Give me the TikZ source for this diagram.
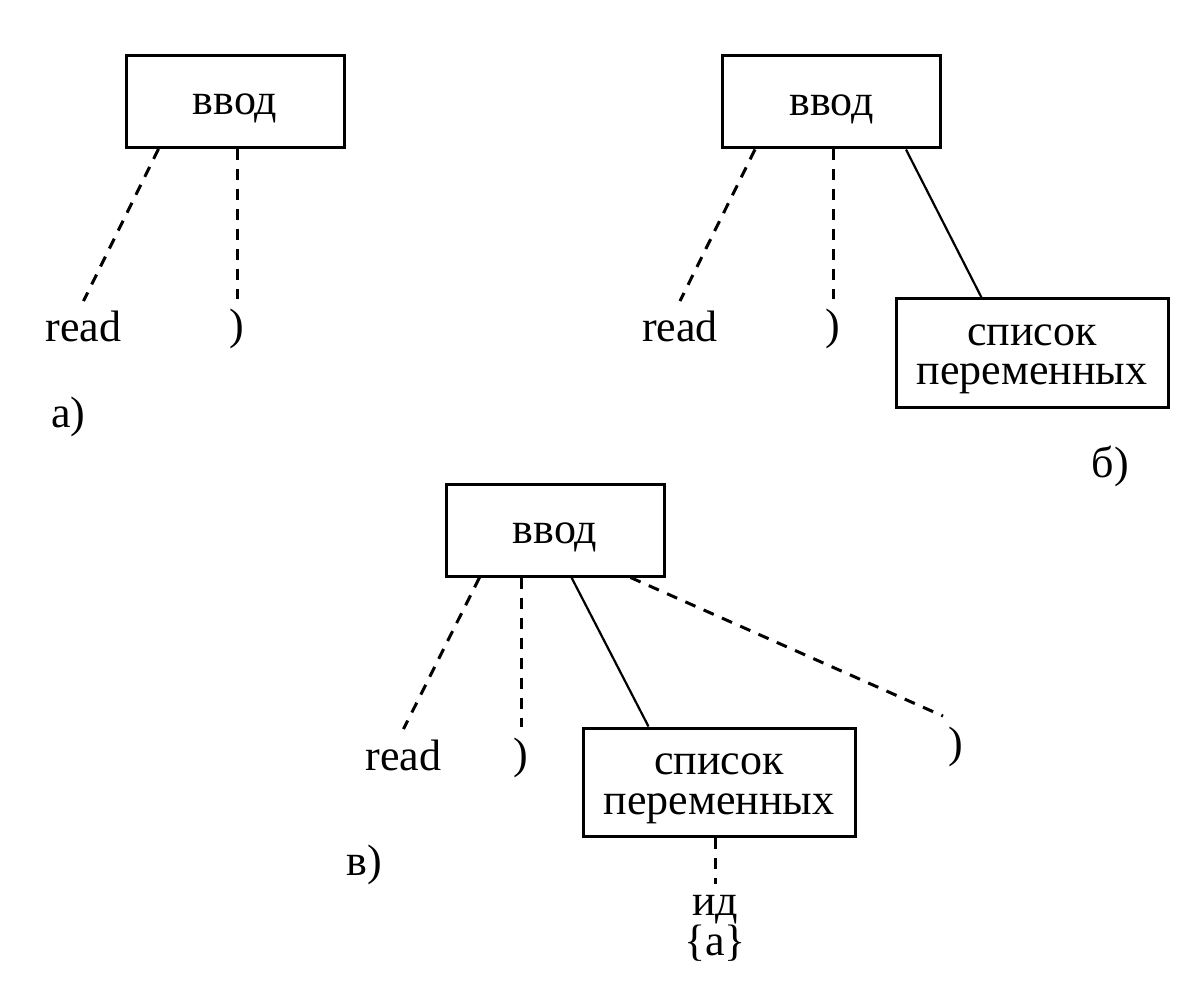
\documentclass[tikz,border=0pt]{standalone}
\usepackage{fontspec}
\setmainfont{Liberation Serif}
\begin{document}
\begin{tikzpicture}[x=0.5pt, y=-0.5pt, font=\fontsize{22}{20}\selectfont,
	box/.style={draw, line width=1.5pt, inner sep=0pt, minimum width=109pt, minimum height=46pt, text height=20pt, text depth=6.5pt},
	listbox/.style={draw, line width=1.5pt, inner sep=0pt, minimum width=136pt, minimum height=54pt, align=center, text height=36pt, text depth=4pt},
	leaf/.style={inner sep=5pt, anchor=base},
	tree/.style={line width=1.1pt},
	dtree/.style={line width=1.5pt, dash pattern=on 5.5pt off 4.5pt}]
	
	\useasboundingbox (0, 0) rectangle (1200, 1000);
	
	% а)
	\node[box] (vvodA) at (235, 101.5) {ввод};
	\node[leaf] (readA) at (83.5, 342) {read};
	\node[leaf] (rpA) at (237, 340) {)};
	\node[leaf] (capA) at (68.5, 428) {а)};
	\draw[dtree] ([xshift=17pt]vvodA.south west) -- (readA.north);
	\draw[dtree] (vvodA.south -| rpA.north) -- (rpA.north);
	
	% б)
	\node[box] (vvodB) at (831.5, 102) {ввод};
	\node[leaf] (readB) at (680, 342) {read};
	\node[leaf] (rpB) at (833, 340) {)};
	\node[listbox] (listB) at (1032, 353) {список\\переменных};
	\node[leaf] (capB) at (1110.5, 477) {б)};
	\draw[dtree] ([xshift=17pt]vvodB.south west) -- (readB.north);
	\draw[dtree] (vvodB.south -| rpB.north) -- (rpB.north);
	\draw[tree] ([xshift=92.5pt]vvodB.south west) -- ([xshift=43.5pt]listB.north west);
	
	% в)
	\node[box] (vvodV) at (555, 530) {ввод};
	\node[leaf] (readV) at (403.5, 770) {read};
	\node[leaf] (rpV) at (521, 768) {)};
	\node[listbox] (listV) at (719, 782) {список\\переменных};
	\node[leaf] (rpW) at (956, 757) {)};
	\node[leaf, align=center] (idV) at (715, 955) {ид\\\{a\}};
	\node[leaf] (capV) at (364.5, 875) {в)};
	\draw[dtree] ([xshift=17.5pt]vvodV.south west) -- (readV.north);
	\draw[dtree] (vvodV.south -| rpV.north) -- (rpV.north);
	\draw[tree] ([xshift=63.5pt]vvodV.south west) -- ([xshift=33.5pt]listV.north west);
	\draw[dtree] ([xshift=93pt]vvodV.south west) -- ([xshift=-6.5pt]rpW.north);
	\draw[dtree] (listV.south -| idV.north) -- (idV.north);
	
\end{tikzpicture}
\end{document}
